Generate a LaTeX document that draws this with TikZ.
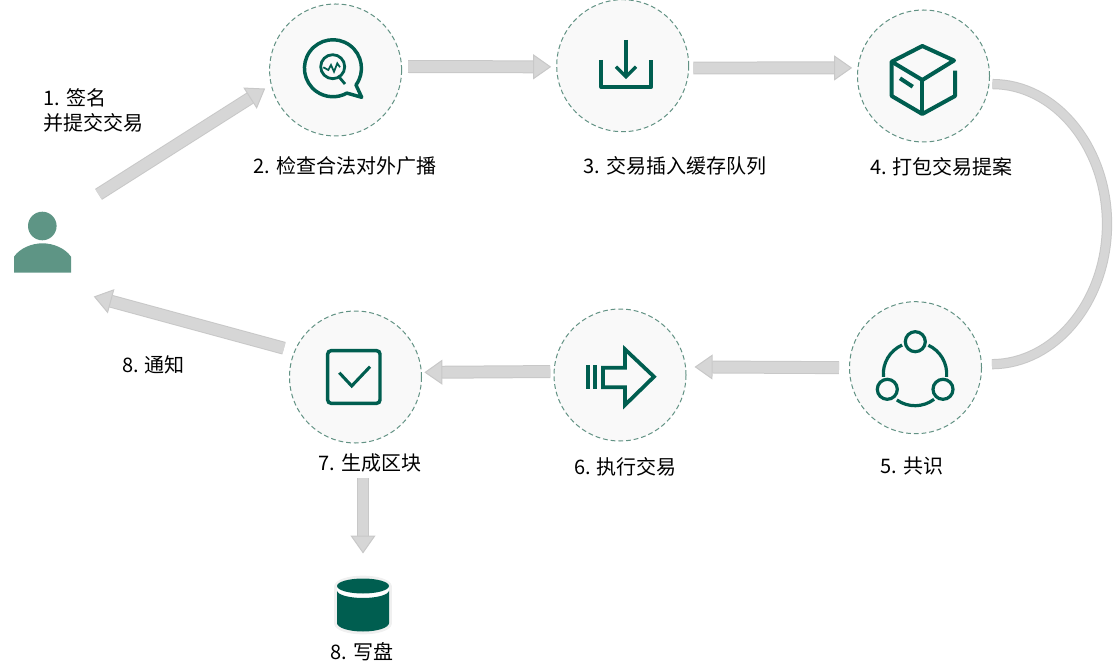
\documentclass[tikz,border=0pt]{standalone}
\usepackage{fontspec}
\setmainfont{Noto Sans CJK SC}
\usetikzlibrary{arrows.meta}

\definecolor{icongreen}{RGB}{0,94,80}
\definecolor{usergreen}{RGB}{94,149,133}
\definecolor{ringedge}{RGB}{98,146,132}
\definecolor{ringfill}{RGB}{249,249,249}
\definecolor{fatfill}{RGB}{214,214,214}
\definecolor{fatedge}{RGB}{200,200,200}
\definecolor{diskhalo}{RGB}{240,240,240}

\tikzset{every picture/.style={line width=0.75pt}}
\tikzset{
  ring/.style={circle,inner sep=0pt,minimum size=99pt,draw=ringedge,fill=ringfill,line width=0.75pt,dash pattern=on 3.6pt off 2.2pt},
  steplabel/.style={inner sep=0.75pt,font=\fontsize{15}{18.75}\selectfont,text=black},
  iconline/.style={draw=icongreen,line width=2.6pt},
  iconthin/.style={draw=icongreen,line width=1.3pt},
  fatshaft/.style={draw=fatedge,line width=0.75pt,double=fatfill,double distance=8.2pt},
  fatarrow/.style={fatshaft,-{Triangle[length=13.5pt,width=18.75pt,fill=fatfill,color=fatedge,line width=0.75pt]}},
}

\begin{document}
\begin{tikzpicture}[x=0.75pt,y=0.75pt,yscale=-1,xscale=1]
\useasboundingbox (0,0) rectangle (1113,670);

%Shape: Circle
\draw (335.6,70) node [ring] (checknode) {};
\draw (622.7,65.7) node [ring] (queuenode) {};
\draw (923.5,76) node [ring] (packnode) {};
\draw (915.5,367.7) node [ring] (consensusnode) {};
\draw (620,375) node [ring] (executenode) {};
\draw (355.5,377) node [ring] (blocknode) {};
%Shape: Invisible boxes round the two plain icons
\draw (42.5,251) node [minimum width=42.75pt,minimum height=58.5pt,inner sep=0pt] (usernode) {};
\draw (363,604.5) node [minimum width=43.5pt,minimum height=44.25pt,inner sep=0pt] (disknode) {};

%Icon: user
\fill [usergreen] (42.3,226) circle [radius=14.3];
\fill [usergreen] (14,272.7) -- (14,256.7) .. controls (20,248) and (32,243.3) .. (42.5,243.3) .. controls (53,243.3) and (65,248) .. (71,256.7) -- (71,272.7) -- cycle;

%Icon: speech bubble with magnifier
\draw [iconline,line join=round] (356,85) arc [start angle=36,end angle=-299.3,radius=28.5] -- (361.7,97.3) -- cycle;
\draw [iconline,line width=2.1pt] (332.7,66.7) circle [radius=12];
\draw [iconline,line width=2.1pt] (338.3,76) -- (345,84);
\draw [iconthin] (323.3,67.3) -- (328.3,70) -- (331,65) -- (334,71.7) -- (337.3,63.3) -- (340,67.3);

%Icon: tray with arrow
\draw [iconline,line join=round] (601.2,60) -- (601.2,87.2) -- (651.2,87.2) -- (651.2,60);
\draw [iconline,line width=2.5pt] (626,40) -- (626,75);
\draw [iconline,line width=2.5pt] (616,66.7) -- (626,76.7) -- (636,66.7);

%Icon: box
\draw [iconline,line width=3pt,line join=round] (891.7,61.7) -- (922.3,46) -- (954,60.5) -- (922.3,80) -- cycle;
\draw [iconline,line width=3pt,line join=round] (891.7,61.7) -- (891.7,96) -- (922.3,114) -- (955,96) -- (955,70.7);
\draw [iconline,line width=3pt] (922.3,80) -- (922.3,114);
\draw [iconline,line width=3pt] (900,78.3) -- (912.7,86.7);

%Icon: three circles on a ring
\draw [iconline,line width=2.4pt] (915.3,341.7) circle [radius=10];
\draw [iconline,line width=2.4pt] (887.3,389.3) circle [radius=10];
\draw [iconline,line width=2.4pt] (943,389.3) circle [radius=10];
\draw [iconline,line width=2.4pt] (915,374) ++(175:31.7) arc [start angle=175,end angle=246,radius=31.7];
\draw [iconline,line width=2.4pt] (915,374) ++(295:31.7) arc [start angle=295,end angle=365,radius=31.7];
\draw [iconline,line width=2.4pt] (915,374) ++(53:31.7) arc [start angle=53,end angle=125,radius=31.7];

%Icon: block arrow with two bars
\draw [iconline,line width=3pt] (588,365) -- (588,389);
\draw [iconline,line width=3pt] (595.4,365) -- (595.4,389);
\draw [iconline,line width=2.8pt,miter limit=10] (603,367.7) -- (625,367.7) -- (625,349.3) -- (654,376.7) -- (625,405) -- (625,387.3) -- (603,387.3) -- cycle;

%Icon: check box
\draw [iconline,rounded corners=2.5pt] (327.7,350.7) rectangle (380,403.3);
\draw [iconline,line width=2.3pt] (339.3,372.7) -- (351.7,386) -- (370,366.7);

%Icon: disk
\fill [diskhalo,draw=diskhalo,line width=4pt,line join=round] (336.7,587) arc [start angle=180,end angle=360,x radius=26.3,y radius=8.7] -- (389.3,623) arc [start angle=0,end angle=180,x radius=26.3,y radius=8.7] -- cycle;
\fill [white] (337,587) arc [start angle=180,end angle=360,x radius=26,y radius=8.7] -- (389,600) -- (337,600) -- cycle;
\fill [icongreen] (363,586) ellipse [x radius=26,y radius=7.5];
\fill [icongreen] (337,590.5) arc [start angle=180,end angle=0,x radius=26,y radius=7.5] -- (389,623) arc [start angle=0,end angle=180,x radius=26,y radius=8.5] -- cycle;

% Text Node
\draw (42,110) node [anchor=west,steplabel,align=left] (signlabel) {1. 签名\\并提交交易};
% Text Node
\draw (345,166) node [steplabel] (checklabel) {2. 检查合法对外广播};
% Text Node
\draw (675,166) node [steplabel] (queuelabel) {3. 交易插入缓存队列};
% Text Node
\draw (941.5,167) node [steplabel] (packlabel) {4. 打包交易提案};
% Text Node
\draw (912,466) node [steplabel] (consensuslabel) {5. 共识};
% Text Node
\draw (625.5,467) node [steplabel] (executelabel) {6. 执行交易};
% Text Node
\draw (370,463) node [steplabel] (blocklabel) {7. 生成区块};
% Text Node
\draw (153.5,365) node [steplabel] (notifylabel) {8. 通知};
% Text Node
\draw (362,652) node [steplabel] (disklabel) {8. 写盘};

%Straight Lines
\draw [fatarrow,shorten <=24pt,shorten >=5pt] (usernode.north east) -- (checknode.193.5);
\draw [fatarrow,shorten <=4.5pt,shorten >=3.75pt] (checknode.3) -- (queuenode.181);
\draw [fatarrow,shorten <=3.2pt,shorten >=4pt] (queuenode.358) -- (packnode.173);
\draw [fatarrow,shorten <=7.5pt,shorten >=6.4pt] (consensusnode.180) -- (executenode.7);
\draw [fatarrow,shorten <=2.5pt,shorten >=1.9pt] (executenode.177) -- (blocknode.4.6);
\draw [fatarrow,shorten <=8pt,shorten >=17.3pt] (blocknode.157) -- (usernode.south east);
\draw [fatarrow,shorten <=3pt,shorten >=15.75pt] (disknode.north |- blocklabel.south) -- (disknode.north);
%Curve
\coordinate (curvemid) at (1107,224);
\draw [fatshaft,double distance=6.2pt,shorten <=2.2pt,shorten >=7.5pt] (packnode.-7) .. controls (1055,84) and (1107,147) .. (curvemid) .. controls (1107,301) and (1055,364) .. (consensusnode.3);

\end{tikzpicture}
\end{document}
